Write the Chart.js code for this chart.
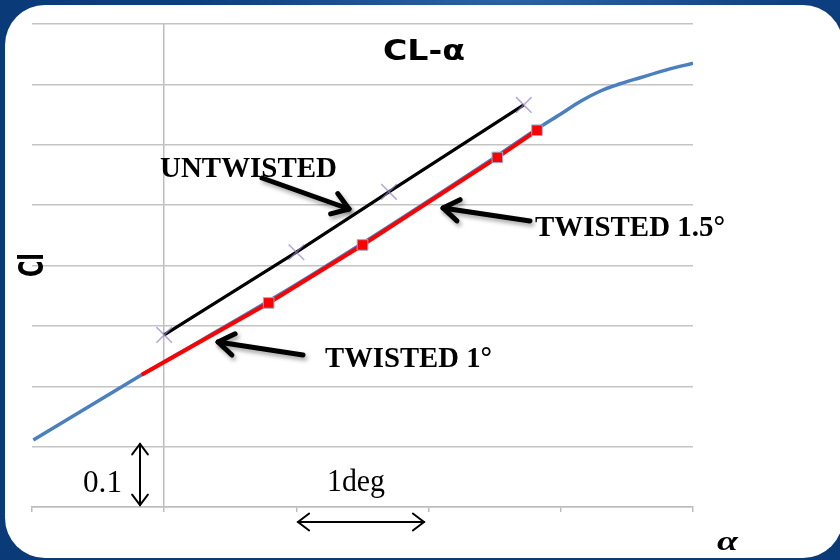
<!DOCTYPE html>
<html>
<head>
<meta charset="utf-8">
<script src="https://cdn.jsdelivr.net/npm/chart.js@4/dist/chart.umd.min.js"></script>
<style>
  html, body { margin: 0; padding: 0; }
  body {
    width: 840px; height: 560px; overflow: hidden; position: relative;
    background: radial-gradient(ellipse 60% 8% at 60% 0%, #2d63a6 0%, #0d3f80 60%, #0a3a78 100%);
    background-color: #0a3a78;
  }
  #panel {
    position: absolute; left: 5px; top: 5px; width: 838px; height: 553px;
    background: #ffffff; border-radius: 40px;
  }
  #c { position: absolute; left: 0; top: 0; }
</style>
</head>
<body>
<div id="panel"></div>
<canvas id="c" width="840" height="560"></canvas>
<script>
// ---- data ----
const alphaRange = [-1, 4];          // deg
const clRange = [0, 0.8];
const xTicksStep = 1;
const yTicksStep = 0.1;

// baseline wing CL-alpha curve (blue)
const alphaBase = [-0.99, -0.17, 0.79, 1.5, 2.52, 2.82, 3.0, 3.15, 3.3, 3.45, 3.6, 3.8, 4.0];
const clBase    = [0.111, 0.219, 0.341, 0.437, 0.582, 0.626, 0.651, 0.672, 0.689, 0.701, 0.711, 0.724, 0.735];

// twisted wing (red)
const alphaTwisted = [-0.17, 0.79, 1.5, 2.52, 2.82];
const clTwisted    = [0.219, 0.338, 0.434, 0.579, 0.624];

// untwisted wing (black)
const alphaUntwisted = [0.0, 1.0, 1.7, 2.72];
const clUntwisted    = [0.285, 0.422, 0.522, 0.666];

const toXY = (xs, ys) => xs.map((x, i) => ({ x: x, y: ys[i] }));

const annotations = {
  id: 'annotations',
  afterDraw(chart) {
    const ctx = chart.ctx;
    function txt(s, x, y, font, w) {
      ctx.save();
      ctx.font = font;
      ctx.fillStyle = '#000';
      ctx.textBaseline = 'alphabetic';
      ctx.textAlign = 'left';
      const m = ctx.measureText(s).width;
      ctx.translate(x, y);
      ctx.scale(w / m, 1);
      ctx.fillText(s, 0, 0);
      ctx.restore();
    }
    function head(tx, ty, ang, len, spread) {
      ctx.beginPath();
      ctx.moveTo(tx + len * Math.cos(ang + spread), ty + len * Math.sin(ang + spread));
      ctx.lineTo(tx, ty);
      ctx.lineTo(tx + len * Math.cos(ang - spread), ty + len * Math.sin(ang - spread));
      ctx.stroke();
    }
    function arrow(x1, y1, x2, y2, lw, len, shadow) {
      ctx.save();
      ctx.strokeStyle = '#000';
      ctx.lineWidth = lw;
      ctx.lineCap = 'round';
      ctx.lineJoin = 'round';
      if (shadow) {
        ctx.shadowColor = 'rgba(0,0,0,0.35)';
        ctx.shadowBlur = 4;
        ctx.shadowOffsetX = 2;
        ctx.shadowOffsetY = 3;
      }
      ctx.beginPath();
      ctx.moveTo(x1, y1);
      ctx.lineTo(x2, y2);
      ctx.stroke();
      const ang = Math.atan2(y1 - y2, x1 - x2);
      head(x2, y2, ang, len, 0.6);
      ctx.restore();
    }
    function dblArrow(x1, y1, x2, y2, lw, len) {
      ctx.save();
      ctx.strokeStyle = '#000';
      ctx.lineWidth = lw;
      ctx.lineCap = 'round';
      ctx.beginPath();
      ctx.moveTo(x1, y1);
      ctx.lineTo(x2, y2);
      ctx.stroke();
      const a = Math.atan2(y1 - y2, x1 - x2);
      head(x2, y2, a, len, 0.65);
      head(x1, y1, a + Math.PI, len, 0.65);
      ctx.restore();
    }

    // title inside plot
    txt('CL-\u03B1', 383, 60, 'bold 28px "DejaVu Sans"', 82);

    // y-axis label, rotated
    ctx.save();
    ctx.font = 'bold 34px "DejaVu Sans"';
    ctx.fillStyle = '#000';
    ctx.textAlign = 'center';
    ctx.textBaseline = 'middle';
    const m = ctx.measureText('Cl').width;
    ctx.translate(34, 265);
    ctx.rotate(-Math.PI / 2);
    ctx.scale(24 / m, 1);
    ctx.fillText('Cl', 0, 0);
    ctx.restore();

    // x-axis label
    txt('\u03B1', 717, 550, 'bold italic 28px "Liberation Serif"', 21);

    // series labels
    txt('UNTWISTED', 160, 177, 'bold 29px "Liberation Serif"', 177);
    txt('TWISTED 1.5\u00B0', 535, 236, 'bold 29px "Liberation Serif"', 190);
    txt('TWISTED 1\u00B0', 325, 367, 'bold 29px "Liberation Serif"', 167);

    // label arrows
    arrow(262, 178, 349, 209, 5, 19, true);
    arrow(530, 221, 443, 208, 5, 19, true);
    arrow(303, 355, 218, 342, 5, 19, true);

    // scale indicators
    txt('0.1', 83, 492, '32px "Liberation Serif"', 39);
    dblArrow(140, 444, 140, 505, 2, 13);
    txt('1deg', 327, 491, '31px "Liberation Serif"', 58);
    dblArrow(298, 522, 424, 522, 2, 14);
  }
};

new Chart(document.getElementById('c'), {
  type: 'line',
  data: {
    datasets: [
      {
        label: 'TWISTED',
        data: toXY(alphaTwisted, clTwisted),
        borderColor: '#ff0000',
        backgroundColor: '#ff0000',
        borderWidth: 4,
        tension: 0,
        pointStyle: 'rect',
        pointRadius: ctx => ctx.dataIndex === 0 ? 0 : 7.5,
        pointBackgroundColor: '#ff0000',
        pointBorderColor: '#8fb3d9',
        pointBorderWidth: 1
      },
      {
        label: 'UNTWISTED',
        data: toXY(alphaUntwisted, clUntwisted),
        borderColor: '#000000',
        borderWidth: 3.2,
        tension: 0,
        pointStyle: 'crossRot',
        pointRadius: 11,
        pointBorderColor: 'rgba(150,130,200,0.7)',
        pointBorderWidth: 1.5
      },
      {
        label: 'BASE',
        data: toXY(alphaBase, clBase),
        borderColor: '#4a7fc0',
        borderWidth: 3.5,
        cubicInterpolationMode: 'monotone',
        pointRadius: 0
      }
    ]
  },
  options: {
    responsive: false,
    animation: false,
    layout: { padding: { left: 32, right: 147, top: 24, bottom: 48 } },
    plugins: { legend: { display: false }, tooltip: { enabled: false }, title: { display: false } },
    scales: {
      x: {
        type: 'linear',
        min: alphaRange[0], max: alphaRange[1],
        ticks: { display: false, stepSize: xTicksStep },
        grid: {
          color: ctx => (ctx.tick && ctx.tick.value === 0) ? '#bdbdbd' : 'rgba(0,0,0,0)',
          tickColor: '#bdbdbd',
          lineWidth: 1.5,
          drawTicks: true,
          tickLength: 5
        },
        border: { display: true, color: '#bdbdbd', width: 1.5 }
      },
      y: {
        type: 'linear',
        min: clRange[0], max: clRange[1],
        ticks: { display: false, stepSize: yTicksStep },
        grid: { color: '#c4c4c4', lineWidth: 1.5, drawTicks: false },
        border: { display: false }
      }
    }
  },
  plugins: [annotations]
});
</script>
</body>
</html>
